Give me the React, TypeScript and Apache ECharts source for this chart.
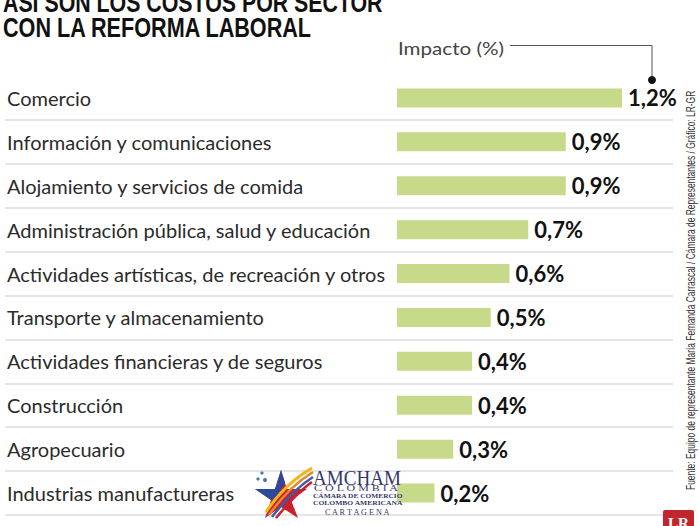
import React, { useEffect, useRef } from "react";
import * as echarts from "echarts";

const categories = [
  "Comercio",
  "Información y comunicaciones",
  "Alojamiento y servicios de comida",
  "Administración pública, salud y educación",
  "Actividades artísticas, de recreación y otros",
  "Transporte y almacenamiento",
  "Actividades financieras y de seguros",
  "Construcción",
  "Agropecuario",
  "Industrias manufactureras",
];
const values = [1.2, 0.9, 0.9, 0.7, 0.6, 0.5, 0.4, 0.4, 0.3, 0.2];
const titleLines = ["ASI SON LOS COSTOS POR SECTOR", "CON LA REFORMA LABORAL"];
const axisTitle = "Impacto (%)";
const sourceText =
  "Fuente: Equipo de representante María Fernanda Carrascal / Cámara de Representantes / Gráfico: LR-GR";
const logoLines = ["AMCHAM", "C O L O M B I A", "CÁMARA DE COMERCIO", "COLOMBO AMERICANA", "C A R T A G E N A"];

function fitScale(text: string, font: string, target: number): number {
  const ctx = document.createElement("canvas").getContext("2d");
  if (!ctx) return 1;
  ctx.font = font;
  const w = ctx.measureText(text).width;
  return w > 0 ? target / w : 1;
}

function txt(text: string, x: number, y: number, font: string, fill: string, target?: number, extra: any = {}) {
  const el: any = {
    type: "text",
    x,
    y,
    z: 100,
    style: {
      text,
      font,
      fill,
      align: "left",
      textAlign: "left",
      verticalAlign: "middle",
      textVerticalAlign: "middle",
    },
    ...extra,
  };
  if (target) el.scaleX = fitScale(text, font, target);
  return el;
}

export default function App() {
  const ref = useRef<HTMLDivElement>(null);
  useEffect(() => {
    if (!ref.current) return;
    const chart = echarts.init(ref.current, undefined, { renderer: "svg" });

    const titleFont = "bold 28px 'Liberation Sans'";
    const logoColor = "#35386b";
    const serif = "'Liberation Serif'";

    const graphic: any[] = [
      txt(titleLines[0], 3, 2, titleFont, "#111", 380),
      txt(titleLines[1], 3, 27, titleFont, "#111", 310),
      txt(axisTitle, 398, 48, "18px Lato", "#444", 106),
      {
        type: "polyline",
        z: 100,
        shape: { points: [[510, 45.5], [652, 45.5], [652, 78]] },
        style: { stroke: "#555", lineWidth: 1, fill: "none" },
      },
      { type: "circle", z: 100, shape: { cx: 652, cy: 80, r: 4 }, style: { fill: "#111" } },
      {
        type: "text",
        z: 100,
        x: 690,
        y: 490,
        rotation: Math.PI / 2,
        scaleX: fitScale(sourceText, "13px 'Liberation Sans'", 400),
        style: {
          text: sourceText,
          font: "13px 'Liberation Sans'",
          fill: "#333",
          align: "left",
          textAlign: "left",
          verticalAlign: "middle",
          textVerticalAlign: "middle",
        },
      },
      // LR logo
      { type: "rect", z: 100, shape: { x: 663, y: 510, width: 31, height: 20, r: 2 }, style: { fill: "#c0272d" } },
      txt("LR", 668, 523, "bold 15px 'Liberation Serif'", "#fff", 21),
      // AMCHAM logo star
      {
        type: "polygon",
        z: 100,
        shape: {
          points: [[281, 470], [287, 489], [307, 489], [291, 500], [298, 518], [281, 507], [265, 518], [271, 500], [255, 489], [275, 489]],
        },
        style: { fill: "#c8202f" },
      },
      {
        type: "polygon",
        z: 101,
        shape: { points: [[281, 470], [285, 483], [276, 497], [271, 500], [255, 489], [275, 489]] },
        style: { fill: "#2b4a9b" },
      },
      { type: "bezierCurve", z: 102, shape: { x1: 266, y1: 512, x2: 312, y2: 468, cpx1: 282, cpy1: 488, cpx2: 298, cpy2: 476 }, style: { stroke: "#f2b51c", lineWidth: 3, fill: "none" } },
      { type: "bezierCurve", z: 102, shape: { x1: 269, y1: 515, x2: 313, y2: 472, cpx1: 285, cpy1: 492, cpx2: 300, cpy2: 480 }, style: { stroke: "#e8862a", lineWidth: 2.5, fill: "none" } },
      { type: "bezierCurve", z: 102, shape: { x1: 272, y1: 517, x2: 313, y2: 477, cpx1: 288, cpy1: 496, cpx2: 302, cpy2: 484 }, style: { stroke: "#3b5ca8", lineWidth: 2.5, fill: "none" } },
      { type: "bezierCurve", z: 102, shape: { x1: 276, y1: 518, x2: 312, y2: 482, cpx1: 291, cpy1: 500, cpx2: 303, cpy2: 488 }, style: { stroke: "#c8202f", lineWidth: 2.5, fill: "none" } },
      { type: "circle", z: 100, shape: { cx: 262, cy: 473, r: 1.6 }, style: { fill: "#4a73b5" } },
      { type: "circle", z: 100, shape: { cx: 258, cy: 479, r: 1.6 }, style: { fill: "#4a73b5" } },
      { type: "circle", z: 100, shape: { cx: 265, cy: 480, r: 2 }, style: { fill: "#4a73b5" } },
      txt(logoLines[0], 313, 478, `20px ${serif}`, logoColor, 88),
      txt(logoLines[1], 314, 488.5, `9px ${serif}`, logoColor, 85),
      txt(logoLines[2], 313, 496.5, `bold 7px ${serif}`, logoColor, 90),
      txt(logoLines[3], 313, 503.5, `bold 7px ${serif}`, logoColor, 90),
      txt(logoLines[4], 325, 513, `7.5px ${serif}`, logoColor, 67),
    ];

    chart.setOption({
      animation: false,
      grid: [
        { left: 397, top: 76, width: 225, height: 439 },
        { left: 5, top: 76, width: 668, height: 439 },
      ],
      xAxis: [
        { type: "value", gridIndex: 0, min: 0, max: 1.2, show: false },
        { type: "value", gridIndex: 1, min: 0, max: 1, show: false },
      ],
      yAxis: [
        {
          type: "category",
          gridIndex: 0,
          inverse: true,
          data: categories,
          axisLine: { show: false },
          axisTick: { show: false },
          splitLine: { show: false },
          axisLabel: {
            margin: 390,
            align: "left",
            fontSize: 20,
            fontFamily: "Lato",
            color: "#2b2b2b",
          },
        },
        {
          type: "category",
          gridIndex: 1,
          inverse: true,
          data: categories,
          axisLine: { show: false },
          axisTick: { show: false },
          axisLabel: { show: false },
          splitLine: {
            show: true,
            showMinLine: false,
            showMaxLine: true,
            lineStyle: { color: "#dcdcdc", width: 1.5 },
          },
        },
      ],
      series: [
        {
          type: "bar",
          xAxisIndex: 0,
          yAxisIndex: 0,
          data: values,
          barWidth: 19,
          itemStyle: { color: "#c6da8a" },
          label: {
            show: true,
            position: "right",
            distance: 6,
            formatter: (p: any) => Number(p.value).toFixed(1).replace(".", ",") + "%",
            fontWeight: "bold",
            fontSize: 22,
            fontFamily: "Lato",
            color: "#111",
          },
        },
      ],
      graphic,
    });
    return () => chart.dispose();
  }, []);
  return <div ref={ref} style={{ width: 700, height: 526, position: "absolute", left: 0, top: 0, background: "#fff" }} />;
}
